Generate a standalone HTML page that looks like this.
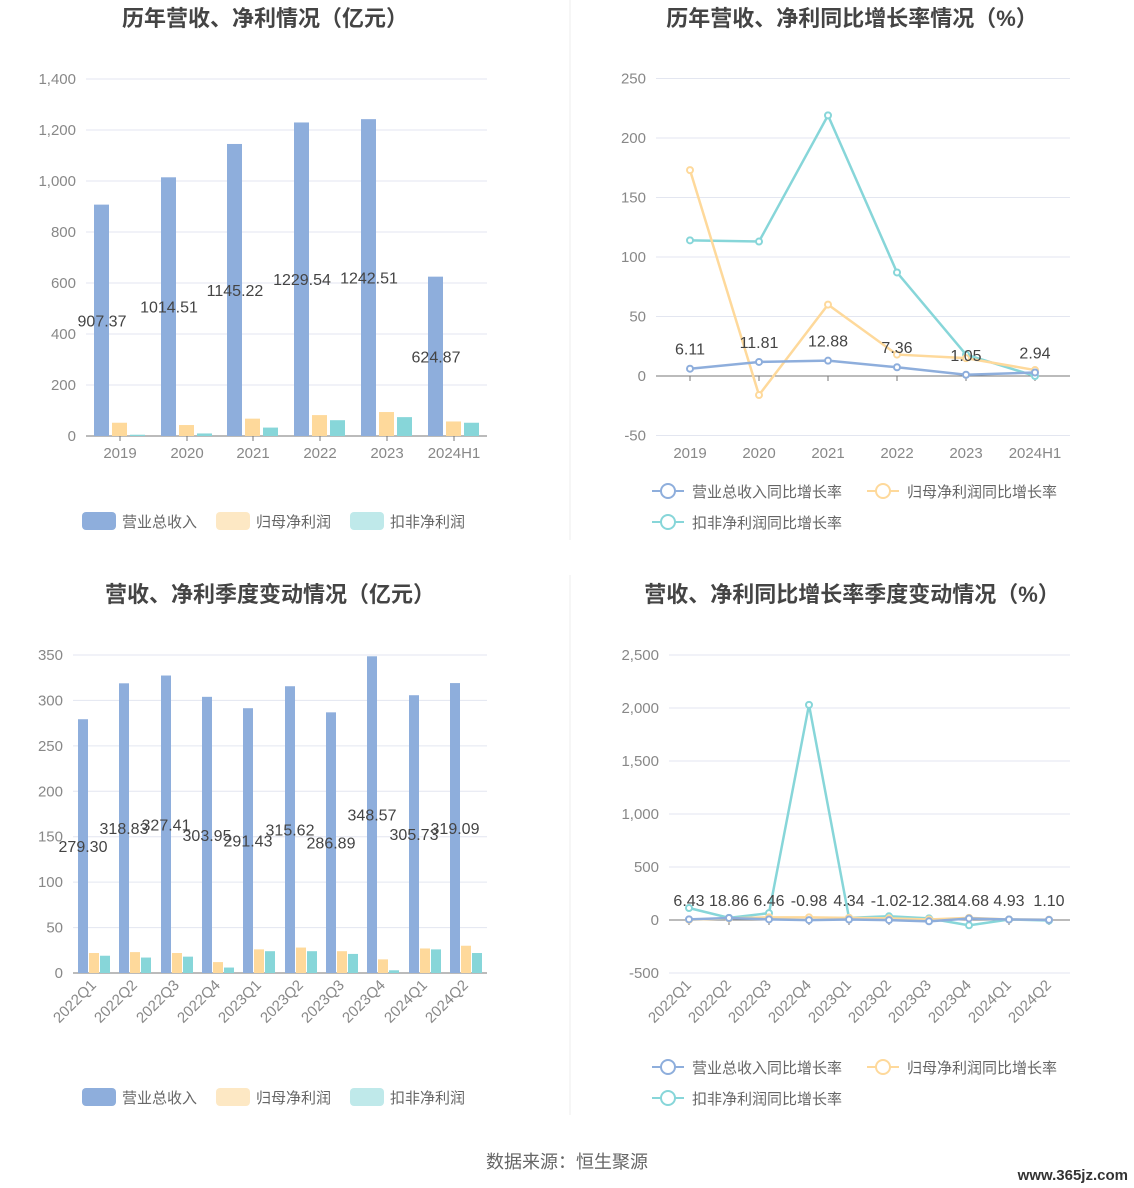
<!DOCTYPE html><html><head><meta charset="utf-8"><style>body{margin:0;background:#fff}svg{display:block}</style></head><body>
<svg id="s" width="1134" height="1188" xmlns="http://www.w3.org/2000/svg" font-family="Liberation Sans, Noto Sans CJK SC, sans-serif"></svg>
<script>
const B='#8eaedc',O='#fed99b',T='#87d6d9';
let h='';
const t=(x,y,s,o={})=>{h+=`<text x="${x}" y="${y}" font-size="${o.fs||15}" fill="${o.c||'#666'}" text-anchor="${o.a||'middle'}" ${o.w?'font-weight="bold"':''} ${o.r?`transform="rotate(${o.r} ${x} ${y})"`:''}>${s}</text>`};
h+=`<line x1="570" y1="0" x2="570" y2="540" stroke="#eee"/><line x1="570" y1="575" x2="570" y2="1115" stroke="#eee"/>`;
function axes(x0,x1,y0,ticks,ymap,zeroY,fmt){ticks.forEach(v=>{let y=ymap(v);h+=`<line x1="${x0}" y1="${y}" x2="${x1}" y2="${y}" stroke="#e3e6f0"/>`;t(x0-10,y+5,fmt(v),{a:'end',c:'#888'})});h+=`<line x1="${x0}" y1="${zeroY}" x2="${x1}" y2="${zeroY}" stroke="#777"/>`}
const f=v=>v.toLocaleString('en-US');
t(265,26,'历年营收、净利情况（亿元）',{fs:22,w:1,c:'#444'});
let m1=v=>436-v*0.255;
axes(86,487,0,[0,200,400,600,800,1000,1200,1400],m1,436,f);
let c1=[120,187,253,320,387,454],rv=[907.37,1014.51,1145.22,1229.54,1242.51,624.87],o1=[52,43,68,82,94,57],e1=[5,10,33,62,74,52],lab=['2019','2020','2021','2022','2023','2024H1'];
c1.forEach((c,i)=>{h+=`<rect x="${c-26}" y="${m1(rv[i])}" width="15" height="${436-m1(rv[i])}" fill="${B}"/><rect x="${c-8}" y="${m1(o1[i])}" width="15" height="${436-m1(o1[i])}" fill="${O}"/><rect x="${c+10}" y="${m1(e1[i])}" width="15" height="${436-m1(e1[i])}" fill="${T}"/>`;h+=`<line x1="${c}" y1="436" x2="${c}" y2="441" stroke="#777"/>`;t(c,458,lab[i],{c:'#888'});t(c-18,(m1(rv[i])+436)/2+6,rv[i].toFixed(2),{fs:16,c:'#444'})});
function leg(x,y,col,s,line){if(line){h+=`<line x1="${x}" y1="${y}" x2="${x+32}" y2="${y}" stroke="${col}" stroke-width="2"/><circle cx="${x+16}" cy="${y}" r="7" fill="#fff" stroke="${col}" stroke-width="2"/>`}else h+=`<rect x="${x}" y="${y-9}" width="34" height="18" rx="4" fill="${col}"/>`;t(x+40,y+6,s,{a:'start',c:'#666'})}
leg(82,521,B,'营业总收入');leg(216,521,'#fde8c4','归母净利润');leg(350,521,'#bfe9ea','扣非净利润');
t(852,26,'历年营收、净利同比增长率情况（%）',{fs:22,w:1,c:'#444'});
let m2=v=>376-v*1.19;
axes(656,1070,0,[-50,0,50,100,150,200,250],m2,376,v=>v);
let c2=[690,759,828,897,966,1035];
function line(cs,vals,col,m){h+=`<polyline fill="none" stroke="${col}" stroke-width="2.5" points="${cs.map((c,i)=>c+','+m(vals[i])).join(' ')}"/>`;cs.forEach((c,i)=>h+=`<circle cx="${c}" cy="${m(vals[i])}" r="3" fill="#fff" stroke="${col}" stroke-width="2"/>`)}
c2.forEach((c,i)=>{h+=`<line x1="${c}" y1="376" x2="${c}" y2="381" stroke="#777"/>`;t(c,458,lab[i],{c:'#888'})});
line(c2,[114,113,219,87,18,0],T,m2);line(c2,[173,-16,60,18,15,5],O,m2);let bv=[6.11,11.81,12.88,7.36,1.05,2.94];line(c2,bv,B,m2);
c2.forEach((c,i)=>t(c,m2(bv[i])-14,bv[i].toFixed(2),{fs:16,c:'#444'}));
leg(652,491,B,'营业总收入同比增长率',1);leg(867,491,O,'归母净利润同比增长率',1);leg(652,522,T,'扣非净利润同比增长率',1);
t(270,602,'营收、净利季度变动情况（亿元）',{fs:22,w:1,c:'#444'});
let m3=v=>973-v*0.9086;
axes(73,487,0,[0,50,100,150,200,250,300,350],m3,973,v=>v);
let c3=[94,135,177,218,259,301,342,383,425,466],q=['2022Q1','2022Q2','2022Q3','2022Q4','2023Q1','2023Q2','2023Q3','2023Q4','2024Q1','2024Q2'],rv3=[279.30,318.83,327.41,303.95,291.43,315.62,286.89,348.57,305.73,319.09],o3=[22,23,22,12,26,28,24,15,27,30],e3=[19,17,18,6,24,24,21,3,26,22];
c3.forEach((c,i)=>{h+=`<rect x="${c-16}" y="${m3(rv3[i])}" width="10" height="${973-m3(rv3[i])}" fill="${B}"/><rect x="${c-5}" y="${m3(o3[i])}" width="10" height="${973-m3(o3[i])}" fill="${O}"/><rect x="${c+6}" y="${m3(e3[i])}" width="10" height="${973-m3(e3[i])}" fill="${T}"/>`;t(c+3,986,q[i],{a:'end',r:-45,c:'#888'})});
c3.forEach((c,i)=>t(c-11,(m3(rv3[i])+973)/2+6,rv3[i].toFixed(2),{fs:16,c:'#444'}));
leg(82,1097,B,'营业总收入');leg(216,1097,'#fde8c4','归母净利润');leg(350,1097,'#bfe9ea','扣非净利润');
t(852,602,'营收、净利同比增长率季度变动情况（%）',{fs:22,w:1,c:'#444'});
let m4=v=>920-v*0.106;
axes(669,1070,0,[-500,0,500,1000,1500,2000,2500],m4,920,f);
let c4=[689,729,769,809,849,889,929,969,1009,1049];
c4.forEach((c,i)=>{h+=`<line x1="${c}" y1="920" x2="${c}" y2="925" stroke="#777"/>`;t(c+3,986,q[i],{a:'end',r:-45,c:'#888'})});
line(c4,[113,20,65,2030,20,35,15,-50,5,-5],T,m4);line(c4,[2,15,25,25,20,15,5,20,5,3],O,m4);let bv4=[6.43,18.86,6.46,-0.98,4.34,-1.02,-12.38,14.68,4.93,1.10];line(c4,bv4,B,m4);
c4.forEach((c,i)=>t(c,906,bv4[i].toFixed(2),{fs:16,c:'#444'}));
leg(652,1067,B,'营业总收入同比增长率',1);leg(867,1067,O,'归母净利润同比增长率',1);leg(652,1098,T,'扣非净利润同比增长率',1);
t(567,1168,'数据来源：恒生聚源',{fs:18,c:'#666'});
t(1128,1180,'www.365jz.com',{fs:15,a:'end',c:'#333',w:1});
document.getElementById('s').innerHTML=h;
</script></body></html>
